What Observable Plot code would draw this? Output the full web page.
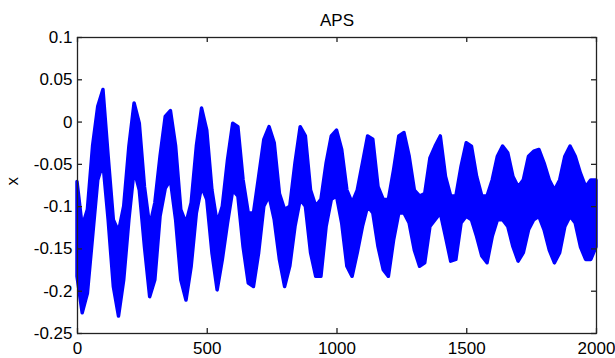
<!DOCTYPE html>
<html><head><meta charset="utf-8">
<script src="https://cdn.jsdelivr.net/npm/d3@7"></script>
<script src="https://cdn.jsdelivr.net/npm/@observablehq/plot@0.6"></script>
<style>body{margin:0;background:#fff}</style>
</head><body><div id="chart"></div>
<script>
const title = "APS";
const yLabel = "x";
const sampleX = [0,20,40,60,80,100,120,140,160,180,200,220,240,260,280,300,320,340,360,380,400,420,440,460,480,500,520,540,560,580,600,620,640,660,680,700,720,740,760,780,800,820,840,860,880,900,920,940,960,980,1000,1020,1040,1060,1080,1100,1120,1140,1160,1180,1200,1220,1240,1260,1280,1300,1320,1340,1360,1380,1400,1420,1440,1460,1480,1500,1520,1540,1560,1580,1600,1620,1640,1660,1680,1700,1720,1740,1760,1780,1800,1820,1840,1860,1880,1900,1920,1940,1960,1980,2000];
const upper = [-0.071,-0.124,-0.104,-0.029,0.018,0.038,-0.041,-0.116,-0.130,-0.100,-0.029,0.022,-0.002,-0.077,-0.124,-0.096,-0.041,0.006,0.013,-0.029,-0.104,-0.120,-0.096,-0.029,0.016,-0.010,-0.081,-0.120,-0.100,-0.045,-0.002,-0.006,-0.069,-0.108,-0.108,-0.065,-0.021,-0.006,-0.025,-0.085,-0.104,-0.100,-0.049,-0.006,-0.017,-0.081,-0.100,-0.092,-0.049,-0.017,-0.010,-0.033,-0.081,-0.096,-0.081,-0.049,-0.017,-0.021,-0.077,-0.092,-0.092,-0.057,-0.017,-0.013,-0.041,-0.081,-0.088,-0.085,-0.043,-0.029,-0.017,-0.065,-0.088,-0.088,-0.053,-0.025,-0.029,-0.065,-0.088,-0.088,-0.069,-0.041,-0.029,-0.037,-0.065,-0.077,-0.069,-0.041,-0.035,-0.033,-0.049,-0.069,-0.081,-0.069,-0.041,-0.029,-0.041,-0.061,-0.077,-0.069,-0.069];
const lower = [-0.183,-0.226,-0.203,-0.136,-0.069,-0.049,-0.116,-0.195,-0.230,-0.187,-0.116,-0.057,-0.081,-0.148,-0.207,-0.187,-0.112,-0.079,-0.069,-0.116,-0.187,-0.211,-0.171,-0.108,-0.077,-0.092,-0.155,-0.199,-0.163,-0.120,-0.081,-0.088,-0.148,-0.191,-0.195,-0.155,-0.100,-0.088,-0.116,-0.163,-0.195,-0.171,-0.124,-0.092,-0.100,-0.155,-0.183,-0.183,-0.124,-0.092,-0.088,-0.120,-0.171,-0.183,-0.155,-0.124,-0.100,-0.108,-0.148,-0.175,-0.183,-0.140,-0.108,-0.108,-0.120,-0.152,-0.171,-0.167,-0.124,-0.116,-0.108,-0.136,-0.165,-0.163,-0.120,-0.112,-0.116,-0.136,-0.159,-0.167,-0.136,-0.116,-0.116,-0.124,-0.148,-0.165,-0.155,-0.128,-0.116,-0.112,-0.128,-0.152,-0.167,-0.155,-0.124,-0.112,-0.120,-0.148,-0.163,-0.163,-0.148];
const xTicks = [0, 500, 1000, 1500, 2000];
const xTickLabels = ["0", "500", "1000", "1500", "2000"];
const yTicks = [0.1, 0.05, 0, -0.05, -0.1, -0.15, -0.2, -0.25];
const yTickLabels = ["0.1", "0.05", "0", "-0.05", "-0.1", "-0.15", "-0.2", "-0.25"];
const xDomain = [0, 2000];
const yDomain = [-0.25, 0.1];

const rows = sampleX.map((x, i) => ({x, lo: lower[i], hi: upper[i]}));
const W = 615, H = 358, mL = 77, mR = 19, mT = 37, mB = 25;
const frameW = W - mL - mR, frameH = H - mT - mB, tick = 5;
const chart = Plot.plot({
  width: W, height: H,
  marginLeft: mL, marginRight: mR, marginTop: mT, marginBottom: mB,
  axis: null,
  x: {domain: xDomain, label: null},
  y: {domain: yDomain, label: null},
  style: {fontFamily: "'Liberation Sans', Arial, sans-serif", fontSize: "17px", background: "#fff", color: "#000"},
  marks: [
    Plot.areaY(rows, {x: "x", y1: "lo", y2: "hi", fill: "#0000ff", stroke: "#0000ff", strokeWidth: 3.5, strokeLinejoin: "round"}),
    Plot.frame({stroke: "#222", strokeWidth: 1.3}),
    Plot.tickX(xTicks, {x: d => d, insetTop: frameH - tick, stroke: "#222", strokeWidth: 1.3}),
    Plot.tickX(xTicks, {x: d => d, insetBottom: frameH - tick, stroke: "#222", strokeWidth: 1.3}),
    Plot.tickY(yTicks, {y: d => d, insetLeft: frameW - tick, stroke: "#222", strokeWidth: 1.3}),
    Plot.tickY(yTicks, {y: d => d, insetRight: frameW - tick, stroke: "#222", strokeWidth: 1.3}),
    Plot.text(xTicks, {x: d => d, text: d => xTickLabels[xTicks.indexOf(d)], frameAnchor: "bottom", lineAnchor: "top", dy: 8, fontSize: 17, fill: "#000"}),
    Plot.text(yTicks, {y: d => d, text: d => yTickLabels[yTicks.indexOf(d)], frameAnchor: "left", textAnchor: "end", lineAnchor: "middle", dx: -5, fontSize: 17, fill: "#000"}),
    Plot.text([title], {frameAnchor: "top", lineAnchor: "middle", dy: -17, fontSize: 17, fill: "#000"}),
    Plot.text([yLabel], {frameAnchor: "left", lineAnchor: "middle", dx: -65, rotate: -90, fontSize: 17, fill: "#000"})
  ]
});
document.getElementById("chart").appendChild(chart);
</script>
</body></html>
